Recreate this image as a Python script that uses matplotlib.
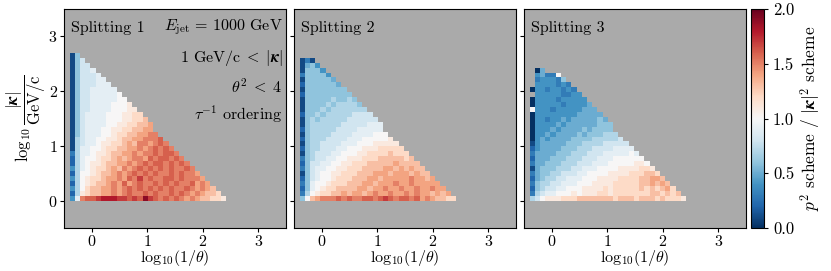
import numpy as np
import matplotlib
matplotlib.use('Agg')
import matplotlib.pyplot as plt

plt.rcParams['font.family'] = 'serif'
plt.rcParams['font.serif'] = ['cmr10']
plt.rcParams['mathtext.fontset'] = 'cm'
plt.rcParams['axes.formatter.use_mathtext'] = True

N = np.nan

# bin edges of the 2d histograms (log10(1/theta), log10 kappa)
x_edges = np.linspace(-0.4, 2.42, 31)
y_edges = np.linspace(0.0, 2.7, 31)

# ratio values x10, one list per kappa bin (bottom row first), theta bins left to right
split1 = [
    [4, 9, 15, 16, 16, 17, 18, 18, 18, 17, 17, 16, 17, 16, 19, 17, 16, 15, 16, 15, 16, 15, 14, 15, 14, 13, 13, 12, 12, 11],
    [2, 7, 11, 12, 13, 13, 14, 14, 15, 14, 15, 16, 15, 15, 16, 15, 16, 15, 15, 16, 15, 16, 15, 14, 15, 14, 13, 13, 12],
    [4, 7, 10, 12, 13, 13, 14, 14, 15, 14, 15, 16, 15, 16, 15, 16, 15, 16, 15, 16, 15, 15, 16, 15, 14, 15, 14, 13],
    [2, 7, 10, 11, 12, 13, 13, 14, 15, 14, 16, 14, 15, 16, 15, 15, 16, 15, 16, 15, 16, 15, 15, 16, 14, 15, 14],
    [4, 7, 10, 11, 12, 12, 13, 14, 14, 15, 14, 16, 15, 17, 15, 16, 15, 15, 16, 16, 15, 16, 15, 15, 15, 14],
    [2, 7, 10, 10, 11, 12, 13, 13, 14, 15, 14, 15, 16, 15, 16, 15, 16, 15, 15, 16, 15, 16, 15, 15, 14],
    [4, 7, 9, 10, 11, 12, 12, 13, 14, 13, 15, 14, 15, 16, 15, 16, 15, 16, 15, 16, 15, 15, 16, 15],
    [2, 7, 9, 10, 11, 11, 12, 13, 13, 14, 14, 15, 14, 15, 16, 15, 16, 16, 15, 16, 15, 16, 15],
    [2, 7, 9, 10, 10, 11, 12, 12, 13, 14, 13, 14, 15, 15, 14, 16, 15, 16, 16, 15, 16, 15],
    [3, 7, 9, 9, 10, 11, 11, 12, 13, 13, 14, 14, 15, 14, 15, 15, 16, 15, 16, 16, 15],
    [1, 7, 9, 9, 10, 10, 11, 12, 12, 13, 13, 14, 14, 15, 14, 15, 16, 15, 16, 15],
    [1, 7, 8, 9, 9, 10, 11, 11, 12, 12, 13, 14, 13, 15, 15, 14, 15, 16, 15],
    [1, 7, 8, 9, 9, 10, 10, 11, 11, 12, 13, 13, 14, 14, 15, 15, 15, 16],
    [1, 6, 8, 9, 9, 9, 10, 10, 11, 12, 12, 13, 13, 14, 14, 15, 15],
    [1, 6, 8, 9, 9, 9, 10, 10, 11, 11, 12, 12, 13, 13, 14, 14],
    [1, 6, 8, 9, 9, 9, 9, 10, 10, 11, 11, 12, 12, 13, 13, 14],
    [1, 6, 8, 9, 9, 9, 9, 10, 10, 10, 11, 11, 12, 12, 13],
    [1, 6, 8, 9, 9, 9, 9, 10, 10, 10, 11, 11, 12, 12],
    [1, 6, 8, 8, 9, 9, 9, 9, 10, 10, 10, 11, 11],
    [1, 6, 8, 8, 9, 9, 9, 9, 10, 10, 10, 11],
    [1, 6, 8, 8, 9, 9, 9, 9, 9, 10, 10],
    [1, 6, 8, 8, 9, 9, 9, 9, 9, 10],
    [1, 6, 8, 8, 9, 9, 9, 9, 9],
    [1, 6, 8, 8, 8, 9, 9, 9],
    [1, 6, 8, 8, 8, 9, 9],
    [1, 6, 8, 8, 8, 9],
    [1, 6, 8, 8, 9],
    [1, 6, 8, 8],
    [1, 6, 8],
    [1, 6],
]

split2 = [
    [6, 10, 13, 14, 15, 15, 15, 16, 15, 16, 15, 15, 16, 16, 15, 16, 17, 16, 15, 16, 16, 15, 16, 14, 15, 14, 13, 13, 12, 12],
    [3, 7, 10, 11, 12, 12, 13, 13, 14, 13, 14, 14, 13, 14, 15, 14, 14, 15, 14, 14, 15, 14, 15, 14, 14, 13, 14, 13, 14],
    [2, 6, 9, 10, 11, 12, 12, 13, 13, 13, 13, 14, 14, 13, 14, 14, 15, 14, 14, 15, 14, 14, 15, 14, 14, 15, 14, 14],
    [3, 6, 9, 10, 10, 11, 12, 12, 12, 13, 13, 13, 14, 14, 13, 14, 14, 14, 15, 14, 14, 15, 14, 14, 14, 14, 14],
    [2, 6, 8, 9, 10, 10, 11, 12, 12, 12, 13, 13, 13, 14, 14, 13, 14, 14, 14, 14, 14, 15, 14, 14, 13, 14],
    [1, 6, 8, 9, 10, 10, 11, 11, 12, 12, 12, 13, 13, 13, 14, 14, 14, 13, 14, 14, 14, 13, 14, 13, 13],
    [3, 6, 8, 9, 9, 10, 10, 11, 11, 12, 12, 12, 13, 13, 13, 13, 14, 14, 13, 14, 13, 14, 13, 13],
    [2, 6, 8, 8, 9, 9, 10, 10, 11, 11, 12, 12, 12, 13, 13, 13, 13, 13, 14, 13, 13, 13, 13],
    [3, 6, 7, 8, 8, 9, 9, 10, 10, 11, 11, 11, 12, 12, 12, 13, 13, 13, 13, 13, 12, 13],
    [1, 6, 7, 8, 8, 8, 9, 9, 10, 10, 10, 11, 11, 12, 12, 12, 12, 13, 12, 12, 12],
    [2, 6, 7, 7, 8, 8, 8, 9, 9, 10, 10, 10, 11, 11, 11, 12, 12, 12, 12, 12],
    [1, 6, 7, 7, 8, 8, 8, 8, 9, 9, 9, 10, 10, 10, 11, 11, 11, 11, 11],
    [2, 6, 7, 7, 7, 8, 8, 8, 8, 9, 9, 9, 10, 10, 10, 10, 10, 11],
    [1, 6, 7, 7, 7, 7, 8, 8, 8, 8, 9, 9, 9, 9, 10, 10, 10],
    [2, 6, 7, 7, 7, 7, 7, 8, 8, 8, 8, 9, 9, 9, 9, 9],
    [1, 6, 7, 7, 7, 7, 7, 7, 8, 8, 8, 8, 8, 9, 9, 9],
    [1, 6, 7, 6, 7, 7, 7, 7, 7, 8, 8, 8, 8, 8, 8],
    [2, 6, 6, 7, 6, 7, 7, 7, 7, 7, 8, 8, 8, 8],
    [1, 6, 6, 6, 7, 6, 7, 7, 7, 7, 7, 7, 7],
    [1, 6, 6, 6, 6, 7, 6, 7, 7, 7, 7, 6],
    [1, 6, 6, 6, 6, 6, 7, 6, 6, 7, 6],
    [2, 6, 6, 6, 6, 6, 6, 6, 6, 6],
    [1, 6, 6, 6, 6, 6, 6, 6, 6],
    [2, 6, 6, 6, 6, 6, 6, 5],
    [1, 6, 6, 6, 6, 6, 5],
    [3, 6, 6, 6, 6, 4],
    [1, 6, 6, 6, 4],
    [1, 5, 6, 4],
    [1, 3, 1],
]

split3 = [
    [7, 8, 10, 11, 11, 11, 12, 12, 12, 13, 13, 13, 13, 13, 13, 13, 12, 13, 13, 13, 12, 13, 13, 13, 12, 13, 12, 12, 12, 11],
    [3, 7, 8, 9, 9, 10, 10, 10, 11, 10, 11, 11, 11, 12, 12, 11, 12, 12, 12, 12, 12, 12, 12, 13, 13, 12, 13, 12, 13],
    [2, 6, 7, 8, 8, 9, 9, 10, 10, 10, 11, 11, 11, 11, 12, 11, 12, 12, 12, 12, 12, 13, 12, 13, 12, 13, 14, 12],
    [3, 6, 7, 7, 8, 8, 9, 9, 9, 10, 10, 10, 11, 11, 11, 11, 12, 12, 12, 12, 12, 13, 13, 14, 13, 14, 13],
    [2, 5, 6, 7, 7, 8, 8, 9, 9, 9, 10, 10, 10, 11, 11, 11, 11, 12, 12, 12, 12, 13, 13, 14, 14, 13],
    [3, 5, 6, 6, 7, 7, 8, 8, 8, 9, 9, 10, 10, 10, 10, 11, 11, 11, 11, 12, 12, 12, 13, 13, 12],
    [1, 5, 6, 6, 6, 7, 7, 7, 8, 8, 9, 9, 9, 10, 10, 10, 10, 11, 11, 11, 11, 12, 12, 11],
    [3, 5, 5, 6, 6, 6, 7, 7, 7, 8, 8, 8, 9, 9, 9, 10, 10, 10, 10, 10, 11, 11, 10],
    [2, 5, 5, 5, 6, 6, 6, 7, 7, 7, 8, 8, 8, 9, 9, 9, 10, 10, 10, 10, 10, 10],
    [3, 5, 5, 5, 5, 6, 6, 6, 7, 7, 7, 8, 8, 8, 9, 9, 9, 9, 9, 10, 9],
    [2, 4, 5, 5, 5, 5, 6, 6, 6, 7, 7, 7, 8, 8, 8, 8, 9, 9, 9, 9],
    [1, 4, 5, 5, 5, 5, 5, 6, 6, 6, 7, 7, 7, 7, 8, 8, 8, 8, 8],
    [0, 4, 5, 4, 5, 5, 5, 5, 6, 6, 6, 6, 7, 7, 7, 7, 7, 8],
    [0, 4, 4, 5, 4, 5, 5, 5, 5, 6, 5, 6, 6, 6, 7, 7, 7],
    [0, 4, 4, 4, 5, 4, 5, 5, 5, 5, 6, 5, 6, 6, 6, 6],
    [0, 4, 4, 4, 4, 5, 4, 5, 5, 5, 5, 5, 5, 6, 6, 6],
    [0, 4, 4, 3, 4, 4, 5, 4, 5, 5, 5, 5, 5, 6, 5],
    [0, 4, 4, 4, 4, 4, 4, 4, 4, 5, 5, 5, 5, 5],
    [10, 4, 4, 4, 3, 4, 4, 4, 4, 4, 5, 5, 5],
    [0, 4, 4, 4, 4, 4, 3, 4, 4, 4, 4, 5],
    [0, 4, 4, 4, 4, 3, 4, 4, 4, 4, 4],
    [N, 4, 4, 4, 4, 4, 3, 3, 4, 4],
    [0, 4, 4, 3, 4, 4, 3, 4, 3],
    [N, 4, 4, 4, 4, 3, 4, 3],
    [N, 3, 4, 4, 4, 3, 6],
    [N, 4, 5, 3, 3, 10],
    [N, 0, 5],
]

panels = [split1, split2, split3]
titles = ['Splitting 1', 'Splitting 2', 'Splitting 3']
kap = r'|\mathbfit{\kappa}|'
cuts = [r'$E_{\rm jet}\,=\,1000$ GeV', r'1 GeV/c$\;<\;' + kap + '$',
        r'$\theta^2\;<\;4$', r'$\tau^{-1}$ ordering']


def to_grid(rows):
    grid = np.full((len(y_edges) - 1, len(x_edges) - 1), np.nan)
    for j, row in enumerate(rows):
        grid[j, :len(row)] = np.array(row, dtype=float) / 10.
    return np.ma.masked_invalid(grid)


fig = plt.figure(figsize=(8.31, 2.71), dpi=100)
W, H = 831., 271.
lefts = [64, 294, 524]
axes = []
for k, left in enumerate(lefts):
    ax = fig.add_axes([left / W, 43 / H, 222 / W, 219 / H])
    ax.set_facecolor('#aaaaaa')
    mesh = ax.pcolormesh(x_edges, y_edges, to_grid(panels[k]), cmap='RdBu_r', vmin=0, vmax=2)
    ax.set_xlim(-0.5, 3.5)
    ax.set_ylim(-0.5, 3.5)
    ax.set_xticks([0, 1, 2, 3])
    ax.set_yticks([0, 1, 2, 3])
    ax.tick_params(labelsize=11.5, length=3, pad=1.5)
    if k > 0:
        ax.set_yticklabels([])
    ax.set_xlabel(r'$\mathrm{log}_{10}(1/\theta)$', fontsize=11.5, labelpad=-1)
    ax.text(0.03, 0.915, titles[k], transform=ax.transAxes, fontsize=11.5, va='center', ha='left')
    axes.append(ax)

axes[0].set_ylabel(r'$\log_{10}\dfrac{' + kap + r'}{\mathrm{GeV/c}}$', fontsize=12, labelpad=0)
ys = [0.915, 0.778, 0.647, 0.52]
for y, s in zip(ys, cuts):
    axes[0].text(0.985, y, s, transform=axes[0].transAxes, fontsize=11.5, va='center', ha='right')

cax = fig.add_axes([751 / W, 43 / H, 13 / W, 219 / H])
cb = fig.colorbar(mesh, cax=cax, ticks=[0, 0.5, 1, 1.5, 2], format='%.1f')
cb.ax.tick_params(labelsize=12, length=3)
cb.set_label(r'$p^2$ scheme / $' + kap + r'^2$ scheme', fontsize=12.5, labelpad=3)

fig.savefig('out.png', dpi=100)
